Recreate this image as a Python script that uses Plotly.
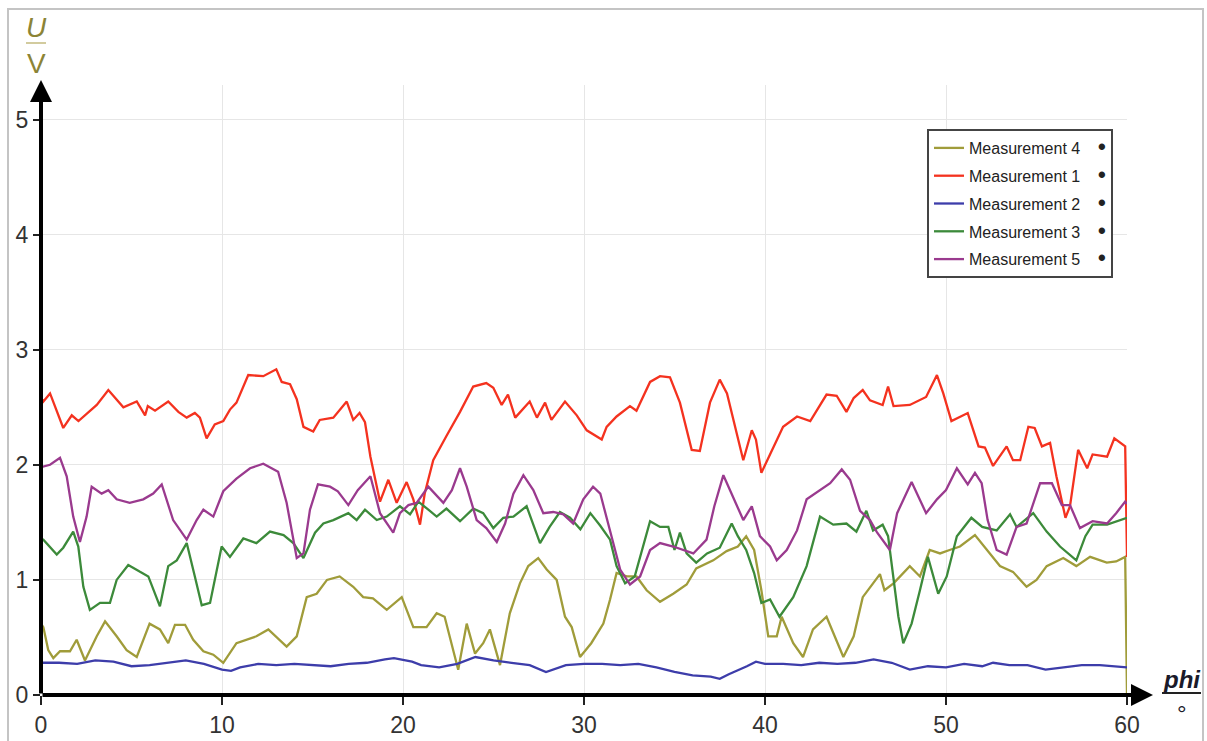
import plotly.graph_objects as go

# ---- measured curves: U (V) over phi (deg) ----
m1_x = [0.0, 0.13, 0.5, 1.23, 1.7, 2.07, 3.08, 3.72, 4.55, 5.29, 5.75, 5.9, 6.3, 7.03, 7.59, 8.05, 8.5, 8.78,
        9.15, 9.6, 10.07, 10.44, 10.8, 11.45, 12.28, 13.0, 13.3, 13.76, 14.13, 14.5, 15.04, 15.4, 16.15, 16.89,
        17.25, 17.6, 17.9, 18.2, 18.73, 19.19, 19.65, 20.2, 20.57, 20.94, 21.2, 21.67, 22.4, 23.15, 23.88, 24.6,
        24.99, 25.45, 25.8, 26.2, 27.0, 27.4, 27.85, 28.2, 28.95, 29.6, 30.15, 30.98, 31.25, 31.8, 32.54, 32.9,
        33.65, 34.2, 34.75, 35.3, 35.95, 36.4, 36.96, 37.5, 37.9, 38.4, 38.8, 39.27, 39.5, 39.8, 40.3, 41.0,
        41.77, 42.5, 43.4, 43.96, 44.5, 44.9, 45.4, 45.8, 46.5, 46.8, 47.1, 48.0, 48.9, 49.5, 49.85, 50.3, 51.2,
        51.8, 52.15, 52.6, 53.35, 53.7, 54.1, 54.55, 54.9, 55.3, 55.75, 56.1, 56.6, 56.85, 57.3, 57.8, 58.1,
        58.9, 59.3, 59.9, 60.0]
m1_y = [2.58, 2.55, 2.62, 2.32, 2.43, 2.38, 2.52, 2.65, 2.50, 2.55, 2.43, 2.51, 2.47, 2.55, 2.46, 2.41, 2.45, 2.41,
        2.23, 2.35, 2.38, 2.48, 2.54, 2.78, 2.77, 2.83, 2.72, 2.70, 2.57, 2.33, 2.29, 2.39, 2.41, 2.55,
        2.39, 2.45, 2.37, 2.07, 1.68, 1.87, 1.67, 1.85, 1.70, 1.48, 1.75, 2.04, 2.25, 2.46, 2.68, 2.71,
        2.67, 2.52, 2.61, 2.41, 2.55, 2.41, 2.54, 2.39, 2.55, 2.43, 2.30, 2.22, 2.33, 2.42, 2.51, 2.47,
        2.72, 2.77, 2.76, 2.54, 2.13, 2.12, 2.54, 2.74, 2.62, 2.30, 2.04, 2.30, 2.22, 1.93, 2.10, 2.33,
        2.42, 2.38, 2.61, 2.60, 2.46, 2.58, 2.65, 2.56, 2.52, 2.68, 2.51, 2.52, 2.59, 2.78, 2.62, 2.38, 2.45,
        2.16, 2.15, 1.99, 2.16, 2.04, 2.04, 2.33, 2.32, 2.16, 2.19, 1.90, 1.54, 1.64, 2.13, 1.97, 2.09,
        2.07, 2.23, 2.16, 1.20]

m2_x = [0, 1, 2, 3, 4, 5, 6, 7, 8, 9, 10, 10.5, 11, 12, 13, 14, 15, 16, 17, 18, 19, 19.5, 20.5, 21, 22, 23,
        24, 25, 26, 27, 27.9, 28.5, 29, 30, 31, 32, 33, 34, 35, 36, 37, 37.5, 38, 39, 39.5, 40, 41, 42, 43,
        44, 45, 46, 47, 48, 49, 50, 51, 52, 52.6, 53.5, 54.5, 55.5, 56.5, 57.5, 58.5, 59.5, 60]
m2_y = [0.28, 0.28, 0.27, 0.30, 0.29, 0.25, 0.26, 0.28, 0.30, 0.27, 0.22, 0.21, 0.24, 0.27, 0.26, 0.27, 0.26,
        0.25, 0.27, 0.28, 0.31, 0.32, 0.29, 0.26, 0.24, 0.27, 0.33, 0.30, 0.28, 0.26, 0.20, 0.23, 0.26, 0.27,
        0.27, 0.26, 0.27, 0.24, 0.20, 0.17, 0.16, 0.14, 0.18, 0.25, 0.29, 0.27, 0.27, 0.26, 0.28, 0.27, 0.28,
        0.31, 0.28, 0.22, 0.25, 0.24, 0.27, 0.25, 0.28, 0.26, 0.26, 0.22, 0.24, 0.26, 0.26, 0.25, 0.24]

m3_x = [0.0, 0.13, 0.87, 1.23, 1.78, 2.06, 2.34, 2.7, 3.26, 3.81, 4.18, 4.82, 5.47, 5.93, 6.57, 7.03, 7.5, 8.05,
        8.5, 8.88, 9.34, 9.98, 10.44, 11.18, 11.9, 12.65, 13.4, 13.94, 14.5, 15.14, 15.6, 16.15, 16.98, 17.44,
        17.9, 18.55, 19.1, 19.83, 20.39, 20.85, 21.4, 21.86, 22.4, 23.15, 23.88, 24.43, 24.99, 25.54, 26.1,
        26.83, 27.57, 28.1, 28.67, 29.23, 29.8, 30.35, 30.9, 31.44, 31.8, 32.27, 32.8, 33.2, 33.65, 34.2, 34.66,
        35.0, 35.3, 35.67, 36.2, 36.8, 37.5, 38.16, 38.5, 38.96, 39.4, 39.8, 40.28, 40.8, 41.56, 42.3, 43.04,
        43.77, 44.5, 45.05, 45.6, 45.97, 46.5, 46.8, 47.1, 47.37, 47.64, 48.1, 48.56, 49.0, 49.57, 50.04, 50.6,
        51.4, 52.0, 52.8, 53.54, 53.9, 54.82, 55.56, 56.3, 57.2, 57.7, 58.1, 58.9, 59.4, 59.9, 60.0]
m3_y = [1.36, 1.35, 1.22, 1.28, 1.42, 1.29, 0.94, 0.74, 0.80, 0.80, 1.00, 1.13, 1.07, 1.03, 0.77, 1.12, 1.17, 1.32,
        1.03, 0.78, 0.80, 1.29, 1.20, 1.36, 1.32, 1.42, 1.39, 1.32, 1.19, 1.41, 1.49, 1.52, 1.58, 1.52,
        1.61, 1.52, 1.55, 1.64, 1.57, 1.68, 1.61, 1.55, 1.62, 1.51, 1.62, 1.58, 1.45, 1.54, 1.55,
        1.64, 1.32, 1.46, 1.59, 1.54, 1.44, 1.58, 1.47, 1.35, 1.12, 0.97, 1.03, 1.26, 1.51, 1.46, 1.46,
        1.26, 1.41, 1.23, 1.15, 1.23, 1.28, 1.49, 1.38, 1.26, 1.06, 0.80, 0.83, 0.68, 0.85, 1.12, 1.55,
        1.48, 1.49, 1.42, 1.60, 1.43, 1.48, 1.38, 1.03, 0.68, 0.45, 0.62, 0.91, 1.20, 0.88, 1.03, 1.38,
        1.54, 1.46, 1.43, 1.57, 1.46, 1.58, 1.42, 1.29, 1.17, 1.38, 1.48, 1.48, 1.51, 1.54, 1.54]

m4_x = [0.0, 0.13, 0.4, 0.68, 1.05, 1.6, 1.97, 2.43, 3.08, 3.54, 4.18, 4.73, 5.29, 6.0, 6.57, 7.03, 7.4, 7.96,
        8.41, 8.97, 9.52, 10.07, 10.8, 11.9, 12.56, 13.57, 14.13, 14.68, 15.23, 15.8, 16.5, 17.25, 17.8, 18.34,
        19.1, 19.93, 20.57, 21.3, 21.86, 22.3, 23.05, 23.52, 23.98, 24.43, 24.8, 25.36, 25.9, 26.46, 26.92,
        27.47, 27.94, 28.49, 28.95, 29.32, 29.78, 30.4, 31.07, 31.44, 31.8, 32.36, 32.9, 33.46, 34.2, 34.93,
        35.67, 36.2, 37.14, 37.88, 38.5, 38.96, 39.4, 39.8, 40.18, 40.65, 40.92, 41.56, 42.1, 42.65, 43.4,
        43.87, 44.33, 44.9, 45.4, 45.97, 46.35, 46.6, 47.1, 48.0, 48.56, 49.1, 49.67, 50.2, 50.77, 51.6, 52.25,
        52.98, 53.7, 54.45, 55.0, 55.56, 56.48, 57.2, 57.96, 58.88, 59.4, 59.9, 60.0]
m4_y = [0.62, 0.59, 0.39, 0.32, 0.38, 0.38, 0.48, 0.30, 0.51, 0.64, 0.51, 0.39, 0.33, 0.62, 0.57, 0.45, 0.61, 0.61,
        0.48, 0.38, 0.35, 0.28, 0.45, 0.51, 0.57, 0.42, 0.51, 0.85, 0.88, 1.00, 1.03, 0.94, 0.85, 0.84,
        0.74, 0.85, 0.59, 0.59, 0.71, 0.68, 0.22, 0.62, 0.36, 0.45, 0.57, 0.26, 0.71, 0.97, 1.12,
        1.19, 1.09, 1.00, 0.68, 0.59, 0.33, 0.45, 0.62, 0.83, 1.06, 1.03, 1.03, 0.91, 0.81, 0.88,
        0.96, 1.10, 1.17, 1.25, 1.29, 1.38, 1.26, 0.91, 0.51, 0.51, 0.68, 0.45, 0.33, 0.57, 0.68,
        0.51, 0.33, 0.51, 0.85, 0.97, 1.05, 0.91, 0.97, 1.12, 1.03, 1.26, 1.23, 1.26, 1.29, 1.39, 1.26,
        1.12, 1.07, 0.94, 1.00, 1.12, 1.19, 1.12, 1.20, 1.15, 1.16, 1.20, 0.0]

m5_x = [0.0, 0.5, 1.05, 1.42, 1.78, 2.15, 2.52, 2.8, 3.35, 3.72, 4.18, 4.9, 5.65, 6.2, 6.67, 7.3, 8.05, 8.6,
        8.97, 9.52, 10.07, 10.8, 11.55, 12.28, 13.1, 13.57, 14.13, 14.5, 14.86, 15.3, 15.97, 16.4, 16.98, 17.5,
        18.2, 18.73, 19.46, 19.83, 20.3, 20.76, 21.4, 22.23, 22.7, 23.15, 23.52, 24.07, 24.6, 25.18, 25.64,
        26.1, 26.65, 27.2, 27.75, 28.3, 28.86, 29.4, 29.96, 30.5, 30.9, 31.44, 32.0, 32.54, 33.1, 33.65, 34.2,
        34.93, 35.5, 36.04, 36.77, 37.2, 37.7, 38.25, 38.8, 39.27, 39.72, 40.28, 40.65, 41.2, 41.77, 42.3,
        43.04, 43.6, 44.24, 44.7, 45.25, 45.8, 46.2, 46.9, 47.3, 48.1, 48.9, 49.5, 50.0, 50.6, 51.2, 51.6,
        51.97, 52.3, 52.8, 53.35, 53.9, 54.45, 55.2, 55.85, 56.4, 56.85, 57.4, 58.1, 58.9, 59.4, 59.9, 60.0]
m5_y = [1.98, 2.00, 2.06, 1.90, 1.55, 1.33, 1.55, 1.81, 1.75, 1.78, 1.70, 1.67, 1.70, 1.75, 1.83, 1.52, 1.35, 1.52,
        1.61, 1.55, 1.77, 1.88, 1.97, 2.01, 1.94, 1.67, 1.19, 1.23, 1.61, 1.83, 1.81, 1.77, 1.65, 1.78,
        1.90, 1.58, 1.41, 1.58, 1.65, 1.67, 1.81, 1.67, 1.78, 1.97, 1.81, 1.52, 1.45, 1.33, 1.49,
        1.75, 1.91, 1.78, 1.58, 1.59, 1.57, 1.49, 1.70, 1.81, 1.75, 1.43, 1.09, 0.96, 1.03, 1.26, 1.32,
        1.29, 1.26, 1.23, 1.35, 1.64, 1.91, 1.72, 1.52, 1.64, 1.38, 1.29, 1.17, 1.26, 1.43, 1.70,
        1.78, 1.84, 1.96, 1.87, 1.60, 1.52, 1.41, 1.26, 1.58, 1.85, 1.58, 1.70, 1.78, 1.97, 1.83, 1.93,
        1.84, 1.52, 1.26, 1.22, 1.46, 1.49, 1.84, 1.84, 1.65, 1.65, 1.45, 1.51, 1.49, 1.58, 1.68, 1.66]

x_ticks = [0, 10, 20, 30, 40, 50, 60]
y_ticks = [0, 1, 2, 3, 4, 5]

# legend order and line colours
series = [
    ("Measurement 4", m4_x, m4_y, "#a09c3a"),
    ("Measurement 1", m1_x, m1_y, "#f4321f"),
    ("Measurement 2", m2_x, m2_y, "#3d3daa"),
    ("Measurement 3", m3_x, m3_y, "#3c8a3a"),
    ("Measurement 5", m5_x, m5_y, "#9a3a8e"),
]

SANS = "Liberation Sans, Arial, sans-serif"
NBSP = "\u00a0"
DOT = "<span style='font-size:22px'><b>•</b></span>"

fig = go.Figure()
for name, xs, ys, col in series:
    fig.add_trace(go.Scatter(
        x=xs, y=ys, mode="lines", name=name + NBSP * 4 + DOT,
        legendgroup=name, line=dict(color=col, width=2.3),
    ))

# pixel geometry of the plotting area
L, R, T, B = 41, 80, 85, 46
W, H = 1207, 741
pw, ph = W - L - R, H - T - B


def px(xp):
    return (xp - L) / pw


def py(yp):
    return (H - B - yp) / ph


grid = "#e6e6e6"
axis_common = dict(ticks="outside", tickwidth=2, tickcolor="#222", showgrid=True, gridcolor=grid,
                   gridwidth=1, zeroline=False, showline=False, automargin=False, fixedrange=True,
                   tickfont=dict(size=23, family=SANS, color="#333"))
fig.update_layout(
    width=W, height=H,
    margin=dict(l=L, r=R, t=T, b=B, pad=0, autoexpand=False),
    paper_bgcolor="white", plot_bgcolor="white",
    font=dict(family=SANS, color="#333333"),
    xaxis=dict(range=[0, 60], tickvals=x_ticks, ticklen=9, **axis_common),
    yaxis=dict(range=[0, 5.3], tickvals=y_ticks, ticklen=7, **axis_common),
    showlegend=True,
    legend=dict(
        x=px(927), y=py(129), xanchor="left", yanchor="top",
        bgcolor="white", bordercolor="#444", borderwidth=2,
        font=dict(size=16, family=SANS, color="#222"),
        traceorder="grouped", tracegroupgap=4,
        itemclick=False, itemdoubleclick=False,
    ),
)

shapes = [
    # light frame around the chart
    dict(type="rect", xref="paper", yref="paper", x0=px(8), x1=px(1203), y0=py(745), y1=py(9),
         line=dict(color="#c4c4c4", width=2), layer="below"),
    # fraction bar of the U / V unit label
    dict(type="line", xref="paper", yref="paper", x0=px(26), x1=px(46), y0=py(43), y1=py(43),
         line=dict(color="#d2cb9e", width=2)),
    # fraction bar under phi
    dict(type="line", xref="paper", yref="paper", x0=px(1162), x1=px(1201), y0=py(693), y1=py(693),
         line=dict(color="#222", width=2)),
]
fig.update_layout(shapes=shapes)

ann = [
    # y axis with arrow
    dict(xref="x", yref="paper", x=0, y=py(80), ax=0, ay=615, axref="pixel", ayref="pixel",
         text="", showarrow=True, arrowhead=2, arrowsize=1.1, arrowwidth=4, arrowcolor="#000"),
    # x axis with arrow
    dict(xref="paper", yref="y", x=px(1153), y=0, ax=-(1153 - L), ay=0, axref="pixel", ayref="pixel",
         text="", showarrow=True, arrowhead=2, arrowsize=1.1, arrowwidth=4, arrowcolor="#000"),
]
labels = [
    (36, 27, "<i>U</i>", 28, "#8c8436"),
    (36, 64, "V", 28, "#8c8436"),
    (1182, 679, "<b><i>phi</i></b>", 24, "#1a1a2a"),
    (1182, 713, "°", 24, "#1a1a2a"),
]
for xp, yp, txt, size, col in labels:
    ann.append(dict(xref="paper", yref="paper", x=px(xp), y=py(yp), xanchor="center", yanchor="middle",
                    text=txt, showarrow=False, font=dict(size=size, family=SANS, color=col)))
fig.update_layout(annotations=ann)

fig.write_html("out.html")
